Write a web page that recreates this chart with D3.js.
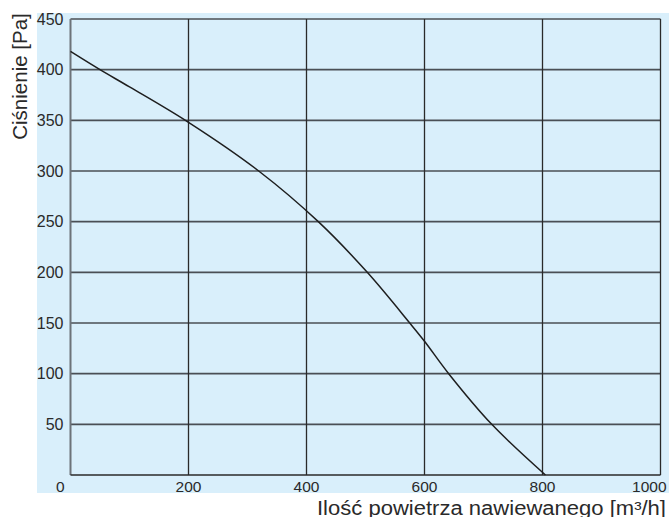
<!DOCTYPE html>
<html><head><meta charset="utf-8">
<script src="https://cdn.jsdelivr.net/npm/d3@7"></script>
<style>
html,body{margin:0;padding:0;background:#fff;}
svg{display:block;}
text{font-family:"Liberation Sans",Arial,Helvetica,sans-serif;fill:#2a2a2a;}
</style></head>
<body>
<svg id="chart" width="669" height="517"></svg>
<script>
// Data
const flow = [0, 50, 100, 200, 319, 420, 503, 575, 600, 641, 714, 805];      // m3/h
const pressure = [418, 400, 383, 348, 300, 250, 200, 150, 132, 100, 50, 0];  // Pa
const xTicks = [0, 200, 400, 600, 800, 1000];
const yTicks = [50, 100, 150, 200, 250, 300, 350, 400, 450];
const xTitle = "Ilość powietrza nawiewanego [m³/h]";
const yTitle = "Ciśnienie [Pa]";

const svg = d3.select("#chart");
const x = d3.scaleLinear().domain([0, 1000]).range([70.5, 660.5]);
const y = d3.scaleLinear().domain([0, 450]).range([475, 19]);

// light blue panel
svg.append("rect").attr("x", 37).attr("y", 13).attr("width", 632).attr("height", 480).attr("fill", "#d9effb");

// grid
svg.append("g").selectAll("line").data(yTicks).join("line")
  .attr("x1", x(0)).attr("x2", x(1000))
  .attr("y1", d => y(d)).attr("y2", d => y(d))
  .attr("stroke", "#4a4f55").attr("stroke-width", 1.6);
svg.append("g").selectAll("line").data(xTicks.slice(1, -1)).join("line")
  .attr("x1", d => x(d)).attr("x2", d => x(d))
  .attr("y1", y(0)).attr("y2", y(450))
  .attr("stroke", "#2a2a2a").attr("stroke-width", 1.3);

// frame
svg.append("line").attr("x1", x(0)).attr("x2", x(0)).attr("y1", y(0)).attr("y2", y(450))
  .attr("stroke", "#6d7379").attr("stroke-width", 2);
svg.append("line").attr("x1", x(1000)).attr("x2", x(1000)).attr("y1", y(0)).attr("y2", y(450))
  .attr("stroke", "#2a2a2a").attr("stroke-width", 1.3);
svg.append("line").attr("x1", x(0)).attr("x2", x(1000)).attr("y1", y(0)).attr("y2", y(0))
  .attr("stroke", "#2a2a2a").attr("stroke-width", 1.6);

// curve
const pts = flow.map((f, i) => [f, pressure[i]]);
svg.append("path").datum(pts)
  .attr("d", d3.line().x(d => x(d[0])).y(d => y(d[1])).curve(d3.curveCatmullRom.alpha(0.5)))
  .attr("fill", "none").attr("stroke", "#1e1e1e").attr("stroke-width", 1.5);

// y tick labels
svg.append("g").selectAll("text").data(yTicks).join("text")
  .attr("x", x(0) - 7).attr("y", d => y(d)).attr("dy", "0.36em")
  .attr("text-anchor", "end").attr("font-size", 16).text(d => d);

// x tick labels
svg.append("g").selectAll("text").data(xTicks).join("text")
  .attr("x", d => d === 0 ? x(0) - 6 : (d === 1000 ? x(1000) + 6 : x(d)))
  .attr("y", 492)
  .attr("text-anchor", d => d === 0 || d === 1000 ? "end" : "middle")
  .attr("font-size", 15.5).text(d => d);

// axis titles
svg.append("text").attr("x", 666).attr("y", 514.5).attr("text-anchor", "end")
  .attr("font-size", 19.5).attr("textLength", 349).attr("lengthAdjust", "spacingAndGlyphs")
  .text(xTitle);
svg.append("text").attr("transform", "translate(27,76.5) rotate(-90)")
  .attr("text-anchor", "middle").attr("font-size", 20.5)
  .text(yTitle);
</script>
</body></html>
